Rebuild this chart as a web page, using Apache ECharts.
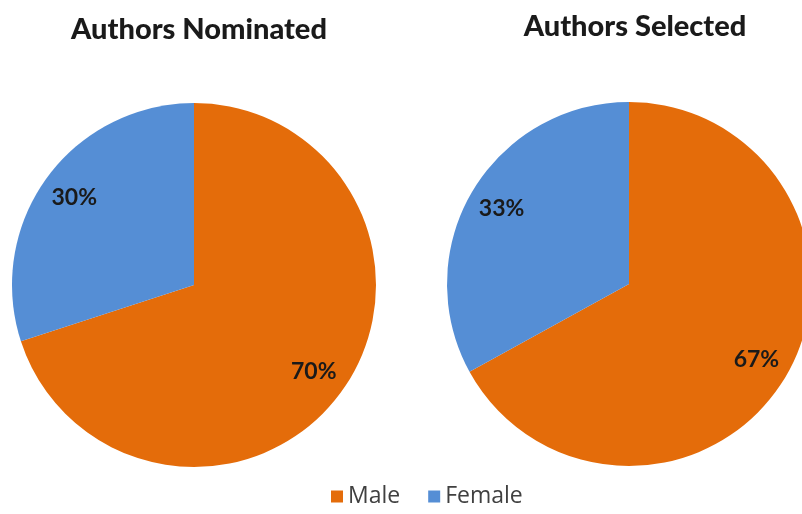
<!DOCTYPE html>
<html>
<head>
<meta charset="utf-8">
<script src="https://cdn.jsdelivr.net/npm/echarts@6/dist/echarts.min.js"></script>
<style>
  html, body { margin: 0; padding: 0; background: #fff; }
  #chart { width: 802px; height: 514px; }
</style>
</head>
<body>
<div id="chart"></div>
<script>
    // chart data
    var categories = ['Male', 'Female'];
    var nominated = [70, 30];
    var selected = [67, 33];
    var titles = ['Authors Nominated', 'Authors Selected'];

    var colors = ['#E46C0A', '#558ED5'];
    var font = 'Lato, "Open Sans", sans-serif';

    function toData(values) {
        return categories.map(function (name, i) {
            return {name: name, value: values[i]};
        });
    }

    // main pie + transparent ring on top that only carries the labels
    function pies(values, center) {
        return [
            {
                type: 'pie',
                center: center,
                radius: [0, 182],
                startAngle: 90,
                clockwise: true,
                label: {show: false},
                labelLine: {show: false},
                emphasis: {disabled: true},
                data: toData(values)
            },
            {
                type: 'pie',
                center: center,
                radius: [108, 182],
                startAngle: 90,
                clockwise: true,
                silent: true,
                itemStyle: {color: 'rgba(0,0,0,0)'},
                label: {
                    show: true,
                    position: 'inside',
                    formatter: '{c}%',
                    color: '#1a1a1a',
                    fontFamily: font,
                    fontWeight: 'bold',
                    fontSize: 23
                },
                labelLine: {show: false},
                emphasis: {disabled: true},
                data: toData(values)
            }
        ];
    }

    var myChart = echarts.init(document.getElementById('chart'));
    myChart.setOption({
        animation: false,
        color: colors,
        title: [
            {
                text: titles[0], left: 194, top: 10, textAlign: 'center',
                textStyle: {fontFamily: font, fontWeight: 900, fontSize: 29, color: '#1a1a1a'}
            },
            {
                text: titles[1], left: 630, top: 7, textAlign: 'center',
                textStyle: {fontFamily: font, fontWeight: 900, fontSize: 29, color: '#1a1a1a'}
            }
        ],
        legend: {
            data: categories,
            bottom: 1,
            left: 326,
            icon: 'rect',
            itemWidth: 12,
            itemHeight: 12,
            itemGap: 28,
            textStyle: {fontFamily: '"Open Sans", sans-serif', fontSize: 23, color: '#404040'}
        },
        series: pies(nominated, [194, 285]).concat(pies(selected, [629, 284]))
    });
</script>
</body>
</html>
